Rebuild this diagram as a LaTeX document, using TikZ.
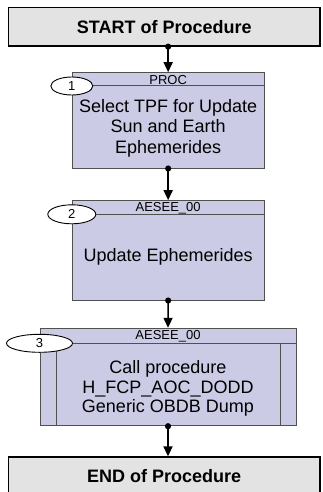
\documentclass[tikz,border=0pt]{standalone}
\usepackage{fontspec}
\setmainfont{Liberation Sans}
\usetikzlibrary{arrows.meta,shapes.geometric}
\definecolor{termfill}{RGB}{227,227,227}
\definecolor{procfill}{RGB}{204,203,229}
\definecolor{edgegray}{RGB}{80,80,80}
\begin{document}
\begin{tikzpicture}[x=1pt,y=-1pt,
  term/.style={draw=black, line width=1.3pt, fill=termfill, inner sep=0pt,
    minimum width=311.7pt, font=\fontsize{18}{20}\selectfont\bfseries},
  procbox/.style={draw=edgegray, line width=1pt, fill=procfill, inner sep=0pt},
  hdrtext/.style={inner sep=0pt, font=\fontsize{13}{14}\selectfont},
  maintext/.style={inner sep=0pt, align=center, font=\fontsize{18}{20.3}\selectfont},
  numoval/.style={ellipse, draw=black, line width=0.9pt, fill=white, inner sep=0pt,
    font=\fontsize{13}{14}\selectfont},
  conn/.style={line width=1.6pt, -{Triangle[length=10pt,width=9pt]}},
  dotmark/.style={fill=black}
]
\clip (0,0) rectangle (323,492);
% terminals
\node[term, minimum height=38.7pt] (start) at (164.2,26.65) {START of Procedure};
\node[term, minimum height=39pt] (end) at (164.2,476.5) {END of Procedure};
% box 1
\node[procbox, minimum width=191.7pt, minimum height=95.3pt] (b1) at (168.15,120.35) {};
\coordinate (h1) at (b1.north west |- 0,86);
\draw[edgegray, line width=1pt] (h1) -- (b1.east |- h1);
\node[hdrtext] (t1h) at (168.15,79.6) {PROC};
\node[numoval, minimum width=42pt, minimum height=18pt] (e1) at (h1) {1};
\node[maintext] (t1) at (168.15,128.3) {Select TPF for Update\\Sun and Earth\\Ephemerides};
% box 2
\node[procbox, minimum width=191.7pt, minimum height=99.3pt] (b2) at (168.15,250.35) {};
\coordinate (h2) at (b2.north west |- 0,214.3);
\draw[edgegray, line width=1pt] (h2) -- (b2.east |- h2);
\node[hdrtext] (t2h) at (168.15,207.8) {AESEE\_00};
\node[numoval, minimum width=48pt, minimum height=19pt] (e2) at (h2) {2};
\node[maintext] (t2) at (168.15,256.7) {Update Ephemerides};
% box 3
\node[procbox, minimum width=256pt, minimum height=97.4pt] (b3) at (168,377) {};
\coordinate (h3) at (b3.north west |- 0,343.3);
\draw[edgegray, line width=1pt] (h3) -- (b3.east |- h3);
\coordinate (v1) at (56.7,343.3);
\coordinate (v2) at (280.7,343.3);
\draw[edgegray, line width=1pt] (v1) -- (b3.south -| v1);
\draw[edgegray, line width=1pt] (v2) -- (b3.south -| v2);
\node[hdrtext] (t3h) at (168,336) {AESEE\_00};
\node[numoval, minimum width=66pt, minimum height=18pt] (e3) at (h3) {3};
\node[maintext, font=\fontsize{18}{19.3}\selectfont] (t3) at (168,388.5) {Call procedure\\H\_FCP\_AOC\_DODD\\Generic OBDB Dump};
% connectors
\draw[conn] (start.south -| b1.north) -- (b1.north);
\fill[dotmark] (start.south -| b1.north) circle (3.1pt);
\draw[conn] (b1.south) -- (b2.north);
\fill[dotmark] (b1.south) circle (3.1pt);
\draw[conn] (b2.south) -- (b3.north);
\fill[dotmark] (b2.south) circle (3.1pt);
\draw[conn] (b3.south) -- (b3.south |- end.north);
\fill[dotmark] (b3.south) circle (3.1pt);
\end{tikzpicture}
\end{document}
